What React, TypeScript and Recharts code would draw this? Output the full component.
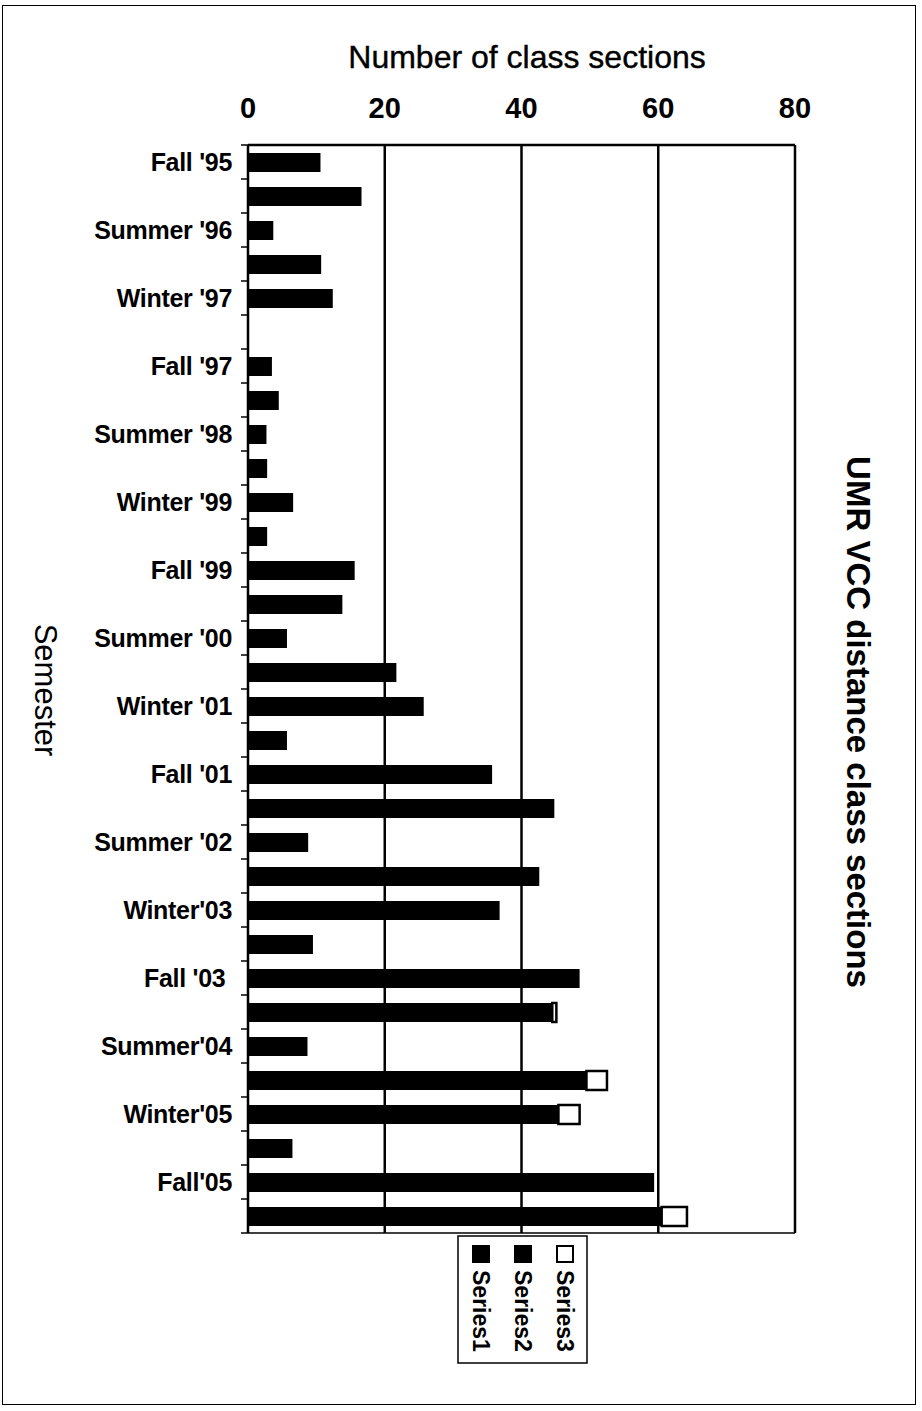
import { BarChart, Bar, XAxis, YAxis, CartesianGrid } from 'recharts';

const FONT = '"Liberation Sans", Arial, Helvetica, sans-serif';

const semesters = [
  "Fall '95", "Winter '96", "Summer '96", "Fall '96", "Winter '97", "Summer '97", "Fall '97", "Winter '98",
  "Summer '98", "Fall '98", "Winter '99", "Summer '99", "Fall '99", "Winter '00", "Summer '00", "Fall '00",
  "Winter '01", "Summer '01", "Fall '01", "Winter '02", "Summer '02", "Fall '02", "Winter'03", "Summer '03",
  "Fall '03 ", "Winter '04", "Summer'04", "Fall '04", "Winter'05", "Summer '05", "Fall'05", "Winter '06",
];

const series1 = [
  10.6, 16.6, 3.7, 10.7, 12.4, 0, 3.5, 4.5, 2.7, 2.8, 6.6, 2.8, 15.6, 13.8, 5.7, 21.7,
  25.7, 5.7, 35.7, 44.8, 8.8, 42.6, 36.8, 9.5, 48.5, 44.5, 8.7, 49.5, 45.4, 6.5, 59.4, 60.5,
];
const series2 = [
  0, 0, 0, 0, 0, 0, 0, 0, 0, 0, 0, 0, 0, 0, 0, 0,
  0, 0, 0, 0, 0, 0, 0, 0, 0, 0, 0, 0, 0, 0, 0, 0,
];
const series3 = [
  0, 0, 0, 0, 0, 0, 0, 0, 0, 0, 0, 0, 0, 0, 0, 0,
  0, 0, 0, 0, 0, 0, 0, 0, 0, 0.6, 0, 3.0, 3.1, 0, 0, 3.7,
];

const xTicks = [0, 20, 40, 60, 80];
const seriesNames = ['Series1', 'Series2', 'Series3'];

const data = semesters.map((semester, i) => ({
  semester,
  s1: series1[i],
  s2: series2[i],
  s3: series3[i],
}));

// category ticks sit on the band boundaries, labels only on every other semester
const SemesterTick = ({ x, y, payload, index }: any) => {
  const half = payload && payload.offset ? payload.offset : 17;
  return (
    <g>
      {index === 0 && <line x1={x - 7} x2={x} y1={y - half} y2={y - half} stroke="#000" strokeWidth={1.5} />}
      <line x1={x - 7} x2={x} y1={y + half} y2={y + half} stroke="#000" strokeWidth={1.5} />
      {index % 2 === 0 && (
        <text
          x={x - 16}
          y={y}
          dy="0.35em"
          textAnchor="end"
          fontSize={25}
          fontWeight="bold"
          fontFamily={FONT}
          fill="#000"
          letterSpacing={-0.3}
          xmlSpace="preserve"
          style={{ whiteSpace: 'pre' }}
        >
          {payload.value}
        </text>
      )}
    </g>
  );
};

export default function App() {
  return (
    <div style={{ position: 'absolute', left: 0, top: 0, width: 922, height: 1411, background: '#fff', fontFamily: FONT }}>
      <div style={{ position: 'absolute', left: 2, top: 5, width: 912, height: 1398, border: '1.5px solid #000' }} />
      <div style={{ position: 'absolute', left: 0, top: 0 }}>
        <BarChart
          width={922}
          height={1411}
          data={data}
          layout="vertical"
          margin={{ top: 0, right: 127, bottom: 0, left: 0 }}
          barSize={19}
        >
          <CartesianGrid xAxisId="top" horizontal={false} stroke="#000" strokeWidth={2.5} />
          <XAxis
            xAxisId="top"
            orientation="top"
            type="number"
            domain={[0, 80]}
            ticks={xTicks}
            height={145}
            tickLine={false}
            tickSize={0}
            tickMargin={27}
            axisLine={{ stroke: '#000', strokeWidth: 2.5 }}
            tick={{ fontSize: 29, fontWeight: 'bold', fill: '#000', fontFamily: FONT }}
          />
          <XAxis
            xAxisId="bottom"
            orientation="bottom"
            type="number"
            domain={[0, 80]}
            ticks={xTicks}
            height={178}
            tick={false}
            tickLine={false}
            axisLine={{ stroke: '#000', strokeWidth: 1.5 }}
          />
          <YAxis
            type="category"
            dataKey="semester"
            width={248}
            interval={0}
            tickSize={0}
            tickMargin={0}
            tickLine={false}
            axisLine={{ stroke: '#000', strokeWidth: 2 }}
            tick={<SemesterTick />}
          />
          <Bar xAxisId="top" dataKey="s1" name="Series1" stackId="a" fill="#000" isAnimationActive={false} />
          <Bar xAxisId="top" dataKey="s2" name="Series2" stackId="a" fill="#000" isAnimationActive={false} />
          <Bar xAxisId="top" dataKey="s3" name="Series3" stackId="a" fill="#fff" stroke="#000" strokeWidth={2.5} isAnimationActive={false} />
        </BarChart>
      </div>
      <svg width={922} height={1411} style={{ position: 'absolute', left: 0, top: 0, pointerEvents: 'none' }}>
        <text x={527} y={68} textAnchor="middle" fontSize={32} fontFamily={FONT} fill="#000" stroke="#000" strokeWidth={0.4}>
          Number of class sections
        </text>
        <text
          x={45}
          y={690}
          textAnchor="middle"
          dominantBaseline="central"
          fontSize={31}
          fontFamily={FONT}
          fill="#000"
          transform="rotate(90 45 690)"
        >
          Semester
        </text>
        <text
          x={858}
          y={722}
          textAnchor="middle"
          dominantBaseline="central"
          fontSize={33}
          fontWeight="bold"
          fontFamily={FONT}
          fill="#000"
          transform="rotate(90 858 722)"
        >
          UMR VCC distance class sections
        </text>
        <rect x={458} y={1236} width={129} height={127} fill="#fff" stroke="#000" strokeWidth={1.5} />
        {seriesNames.map((name, i) => {
          const cx = 481 + i * 42;
          return (
            <g key={name}>
              <rect
                x={cx - 8}
                y={1246}
                width={16}
                height={16}
                fill={i === 2 ? '#fff' : '#000'}
                stroke="#000"
                strokeWidth={2}
              />
              <text
                x={cx}
                y={1270}
                textAnchor="start"
                dominantBaseline="central"
                fontSize={23}
                fontWeight="bold"
                fontFamily={FONT}
                fill="#000"
                transform={`rotate(90 ${cx} 1270)`}
              >
                {name}
              </text>
            </g>
          );
        })}
      </svg>
    </div>
  );
}
